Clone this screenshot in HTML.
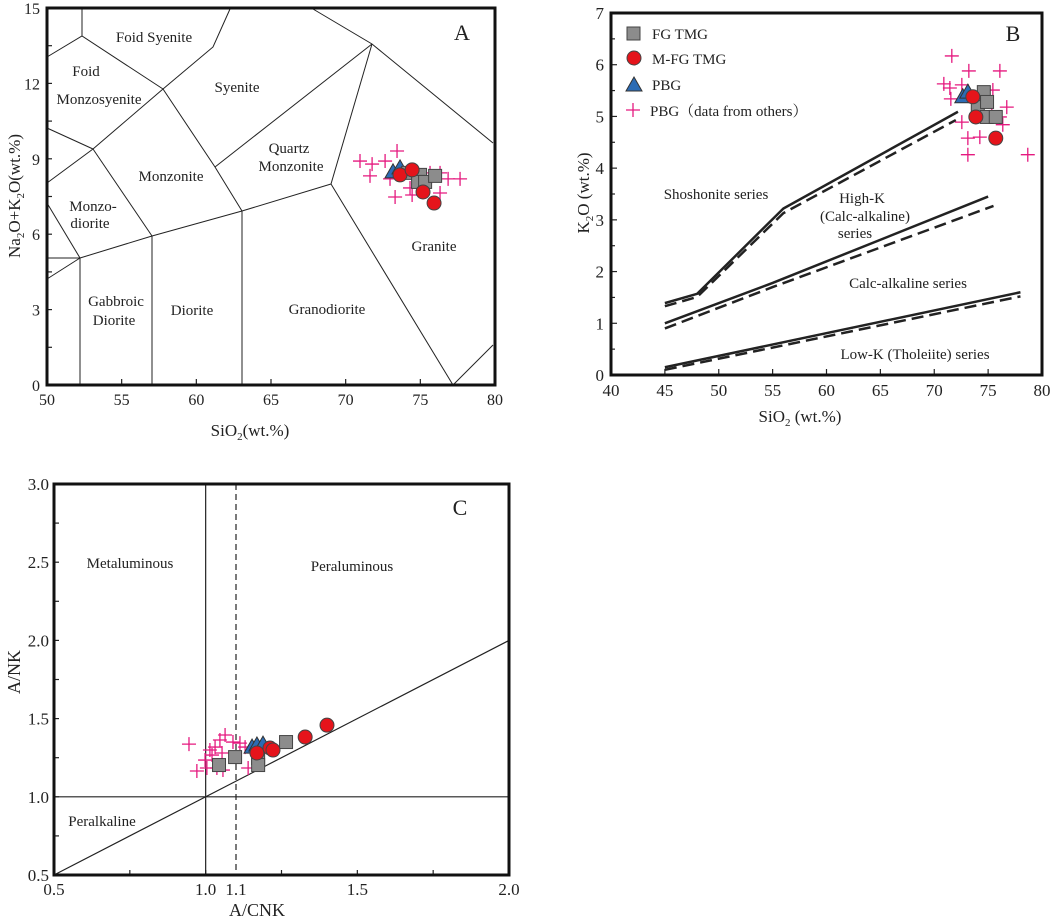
<!DOCTYPE html>
<html><head><meta charset="utf-8"><style>
html,body{margin:0;padding:0;background:#fff;}
svg{display:block;font-family:"Liberation Serif",serif;}
</style></head><body>
<svg id="fig" width="1052" height="922" viewBox="0 0 1052 922" xmlns="http://www.w3.org/2000/svg"></svg>
<script>
// ---------- Panel A data (TAS) ----------
const aCrossX=[70.96,71.77,72.64,73.44,71.63,72.97,73.31,74.31,74.45,75.32,76.32,76.86,77.66,75.65,76.32,75.12];
const aCrossY=[8.91,8.79,8.91,9.31,8.32,8.20,7.48,7.84,7.56,8.04,7.64,8.20,8.20,8.44,8.44,7.88];
const aTriX=[73.17,73.64];const aTriY=[8.48,8.64];
const aSqX=[74.18,74.98,74.85,75.32,75.99];const aSqY=[8.44,8.36,8.08,8.08,8.32];
const aCirX=[73.64,74.45,75.18,75.92];const aCirY=[8.36,8.56,7.68,7.24];
const aXTicks=[50,55,60,65,70,75,80];const aYTicks=[0,3,6,9,12,15];
// ---------- Panel B data ----------
const bCrossX=[71.63,73.21,76.09,70.89,71.45,72.56,75.44,71.54,76.73,72.56,75.34,76.09,76.36,73.12,74.23,73.12,78.68,74.23];
const bCrossY=[6.17,5.88,5.88,5.63,5.55,5.61,5.51,5.34,5.18,4.89,5.07,4.99,4.84,4.58,4.60,4.26,4.26,5.36];
const bTriX=[72.65,73.12];const bTriY=[5.38,5.47];
const bSqX=[74.6,74.04,74.9,74.88,75.71];const bSqY=[5.47,5.18,5.28,4.99,4.99];
const bCirX=[73.58,73.86,75.71];const bCirY=[5.38,4.99,4.58];
const bXTicks=[40,45,50,55,60,65,70,75,80];const bYTicks=[0,1,2,3,4,5,6,7];
// ---------- Panel C data ----------
const cCrossX=[0.945,1.064,1.047,1.014,1.021,1.054,0.998,1.004,0.971,1.037,1.057,1.130,1.113,1.140,1.090,1.031];
const cCrossY=[1.337,1.395,1.363,1.299,1.267,1.280,1.235,1.184,1.165,1.184,1.171,1.318,1.343,1.184,1.350,1.318];
const cTriX=[1.153,1.169,1.189];const cTriY=[1.318,1.331,1.337];
const cSqX=[1.044,1.097,1.173,1.173,1.265];const cSqY=[1.203,1.254,1.248,1.203,1.35];
const cCirX=[1.169,1.212,1.222,1.328,1.40];const cCirY=[1.28,1.312,1.299,1.382,1.458];
const cXTicks=[0.5,1.0,1.1,1.5,2.0];const cYTicks=[0.5,1.0,1.5,2.0,2.5,3.0];

const NS="http://www.w3.org/2000/svg";
const svg=document.getElementById('fig');
function mk(tag,attrs,parent){const e=document.createElementNS(NS,tag);for(const k in attrs)e.setAttribute(k,attrs[k]);(parent||svg).appendChild(e);return e;}
function txt(x,y,s,size,anchor,parent){const t=mk('text',{x:x,y:y,'font-size':size,'text-anchor':anchor||'middle',fill:'#222'},parent);t.textContent=s;return t;}
function lin(x1,y1,x2,y2,w,dash,parent){const l=mk('line',{x1:x1,y1:y1,x2:x2,y2:y2,stroke:'#222','stroke-width':w||1},parent);if(dash)l.setAttribute('stroke-dasharray',dash);return l;}
function poly(pts,w,dash,parent){const p=mk('polyline',{points:pts.map(q=>q.join(',')).join(' '),fill:'none',stroke:'#222','stroke-width':w||1},parent);if(dash)p.setAttribute('stroke-dasharray',dash);return p;}

function markers(g,sx,sy,cx,cy,tx,ty,qx,qy,ix,iy){
  cx.forEach((v,i)=>{const X=sx(v),Y=sy(cy[i]);const c=mk('path',{d:`M${X-7},${Y}H${X+7}M${X},${Y-7}V${Y+7}`,stroke:'#e5197f','stroke-width':1.3,fill:'none'},g);
    
    });
  tx.forEach((v,i)=>{const X=sx(v),Y=sy(ty[i]);const t=mk('path',{d:`M${X},${Y-8}L${X+8},${Y+6}L${X-8},${Y+6}Z`,fill:'#2c6cb5',stroke:'#333','stroke-width':1},g);
    
    });
  qx.forEach((v,i)=>{const X=sx(v),Y=sy(qy[i]);const s=mk('rect',{x:X-6.5,y:Y-6.5,width:13,height:13,fill:'#8c8c8c',stroke:'#444','stroke-width':1},g);
    
    });
  ix.forEach((v,i)=>{const X=sx(v),Y=sy(iy[i]);const c=mk('circle',{cx:X,cy:Y,r:7,fill:'#e5141b',stroke:'#444','stroke-width':1},g);
    
    });
}

// ===== Panel A =====
(function(){
  const g=mk('g',{});
  const L=47,R=495,T=8,B=385;
  const sx=v=>L+(v-50)*(R-L)/30, sy=v=>B-(v)*(B-T)/15;
  const segs=[[[82,9],[82,36]],[[47,57],[82,36],[163,89]],[[163,89],[213,47],[230,9]],[[47,128],[93,149]],[[47,183],[93,149],[163,89]],
   [[93,149],[152,236]],[[163,89],[215,167],[242,211]],[[215,167],[372,44]],[[313,9],[372,44],[493,143]],[[372,44],[331,184]],
   [[47,203],[80,258]],[[47,258],[80,258]],[[47,279],[80,258]],[[80,258],[152,236],[242,211],[331,184]],
   [[80,258],[80,385]],[[152,236],[152,385]],[[242,211],[242,385]],[[331,184],[453,385]],[[453,385],[493,345]]];
  segs.forEach(s=>poly(s,1,null,g));
  const labs=[["Foid  Syenite",154,42],["Foid",86,76],["Monzosyenite",99,104],["Syenite",237,92],["Quartz",289,153],["Monzonite",291,171],
    ["Monzonite",171,181],["Monzo-",93,211],["diorite",90,228],["Gabbroic",116,306],["Diorite",114,325],["Diorite",192,315],["Granodiorite",327,314],["Granite",434,251]];
  labs.forEach(l=>{const t=txt(l[1],l[2],l[0],15,'middle',g);});
  const pl=txt(462,40,"A",22,'middle',g);
  aXTicks.forEach(v=>{lin(sx(v),B,sx(v),B-6,1.2,null,g);txt(sx(v),B+20,String(v),16,'middle',g);});
  for(let v=1.5;v<15;v+=1.5)lin(L,sy(v),L+5,sy(v),1.2,null,g);
  aYTicks.forEach(v=>{txt(L-7,sy(v)+6,String(v),16,'end',g);});
  mk('rect',{x:L,y:T,width:R-L,height:B-T,fill:'none',stroke:'#111','stroke-width':3},g);
  markers(g,sx,sy,aCrossX,aCrossY,aTriX,aTriY,aSqX,aSqY,aCirX,aCirY);
  const xt=mk('text',{x:250,y:436,'font-size':17,'text-anchor':'middle',fill:'#222'},g);xt.innerHTML='SiO<tspan font-size="11" dy="4">2</tspan><tspan dy="-4">(wt.%)</tspan>';
  
  const yt=mk('text',{x:0,y:0,'font-size':17,'text-anchor':'middle',fill:'#222',transform:'translate(20,196) rotate(-90)'},g);
  yt.innerHTML='Na<tspan font-size="11" dy="4">2</tspan><tspan dy="-4">O+K</tspan><tspan font-size="11" dy="4">2</tspan><tspan dy="-4">O(wt.%)</tspan>';
  
})();

// ===== Panel B =====
(function(){
  const g=mk('g',{});
  const L=611,R=1042,T=13,B=375;
  const sx=v=>L+(v-40)*(R-L)/40, sy=v=>B-v*(B-T)/7;
  const P=a=>a.map(p=>[sx(p[0]),sy(p[1])]);
  poly(P([[45,1.39],[48,1.57],[56,3.22],[72.2,5.09]]),2.5,null,g);
  poly(P([[45,1.33],[48,1.51],[56,3.13],[72,4.93]]),2.5,"12,6",g);
  poly(P([[45,1.0],[55,1.78],[75,3.45]]),2.5,null,g);
  poly(P([[45,0.9],[55,1.7],[75.5,3.27]]),2.5,"12,6",g);
  poly(P([[45,0.15],[78,1.6]]),2.5,null,g);
  poly(P([[45,0.1],[78,1.52]]),2.5,"12,6",g);
  const labs=[["Shoshonite  series",716,199],["High-K",862,203],["(Calc-alkaline)",865,221],["series",855,238],["Calc-alkaline  series",908,288],["Low-K (Tholeiite) series",915,359]];
  labs.forEach(l=>{const t=txt(l[1],l[2],l[0],15,'middle',g);});
  const pl=txt(1013,41,"B",22,'middle',g);
  bXTicks.forEach(v=>{lin(sx(v),B,sx(v),B-6,1.2,null,g);txt(sx(v),B+21,String(v),17,'middle',g);});
  for(let v=0.5;v<7;v+=0.5)lin(L,sy(v),L+(v%1?4:6),sy(v),1.2,null,g);
  bYTicks.forEach(v=>{txt(L-7,sy(v)+6,String(v),17,'end',g);});
  mk('rect',{x:L,y:T,width:R-L,height:B-T,fill:'none',stroke:'#111','stroke-width':3},g);
  markers(g,sx,sy,bCrossX,bCrossY,bTriX,bTriY,bSqX,bSqY,bCirX,bCirY);
  // legend
  const lg=mk('g',{},g);
  mk('rect',{x:627,y:27,width:13,height:13,fill:'#8c8c8c',stroke:'#444'},lg);txt(652,39,"FG TMG",15,'start',lg);
  mk('circle',{cx:634,cy:58,r:7,fill:'#e5141b',stroke:'#444'},lg);txt(652,64,"M-FG TMG",15,'start',lg);
  mk('path',{d:'M634,77L642,91L626,91Z',fill:'#2c6cb5',stroke:'#333'},lg);txt(652,90,"PBG",15,'start',lg);
  mk('path',{d:'M626,110H640M633,103V117',stroke:'#e5197f','stroke-width':1.3},lg);
  const lt=mk('text',{x:650,y:116,'font-size':15,'text-anchor':'start',fill:'#222','font-family':'"Liberation Serif","Noto Serif CJK SC",serif'},lg);lt.textContent="PBG（data from others）";
  const xt=mk('text',{x:800,y:422,'font-size':17,'text-anchor':'middle',fill:'#222'},g);xt.innerHTML='SiO<tspan font-size="11" dy="4">2</tspan><tspan dy="-4"> (wt.%)</tspan>';
  
  const yt=mk('text',{x:0,y:0,'font-size':17,'text-anchor':'middle',fill:'#222',transform:'translate(589,193) rotate(-90)'},g);
  yt.innerHTML='K<tspan font-size="11" dy="4">2</tspan><tspan dy="-4">O (wt.%)</tspan>';
  
})();

// ===== Panel C =====
(function(){
  const g=mk('g',{});
  const L=54,R=509,T=484,B=875;
  const sx=v=>L+(v-0.5)*(R-L)/1.5, sy=v=>B-(v-0.5)*(B-T)/2.5;
  lin(sx(1.0),T,sx(1.0),B,1.2,null,g);
  lin(sx(1.1),T,sx(1.1),B,1.2,"6,4",g);
  lin(L,sy(1.0),R,sy(1.0),1.2,null,g);
  lin(sx(0.5),sy(0.5),sx(2.0),sy(2.0),1.2,null,g);
  const labs=[["Metaluminous",130,568],["Peraluminous",352,571],["Peralkaline",102,826]];
  labs.forEach(l=>{const t=txt(l[1],l[2],l[0],15,'middle',g);});
  const pl=txt(460,515,"C",22,'middle',g);
  for(let v=0.75;v<2.0;v+=0.25)lin(sx(v),B,sx(v),B-5,1.2,null,g);
  for(let v=0.75;v<3.0;v+=0.25)lin(L,sy(v),L+5,sy(v),1.2,null,g);
  cXTicks.forEach(v=>{txt(sx(v),B+20,v.toFixed(1),17,'middle',g);});
  cYTicks.forEach(v=>{txt(L-5,sy(v)+6,v.toFixed(1),17,'end',g);});
  mk('rect',{x:L,y:T,width:R-L,height:B-T,fill:'none',stroke:'#111','stroke-width':3},g);
  markers(g,sx,sy,cCrossX,cCrossY,cTriX,cTriY,cSqX,cSqY,cCirX,cCirY);
  const xt=txt(257,916,"A/CNK",18,'middle',g);
  const yt=mk('text',{x:0,y:0,'font-size':18,'text-anchor':'middle',fill:'#222',transform:'translate(20,672) rotate(-90)'},g);yt.textContent="A/NK";
  
})();
</script>
</body></html>
